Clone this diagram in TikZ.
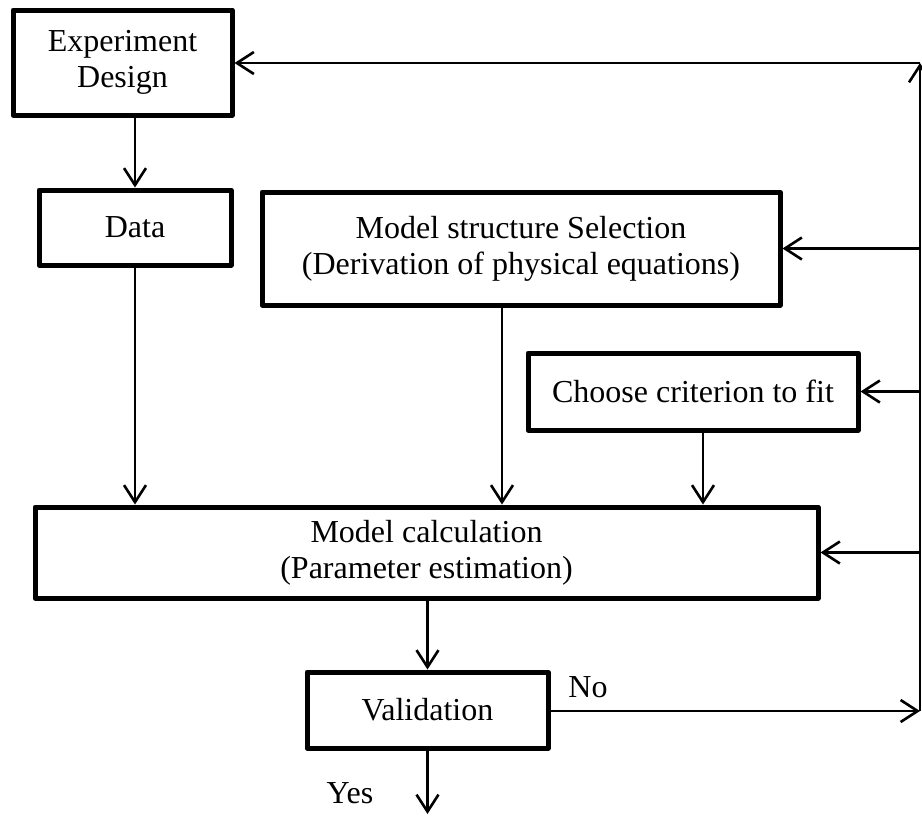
\documentclass[tikz,border=0pt]{standalone}
\usepackage{fontspec}
\setmainfont{Liberation Serif}
\usetikzlibrary{arrows.meta}
\begin{document}
\begin{tikzpicture}[x=0.5pt,y=-0.5pt,
  box/.style={draw=black,line width=2.5pt,line join=round,rectangle,inner sep=0pt,
    align=center,font=\fontsize{16}{18}\selectfont},
  lbl/.style={inner sep=0pt,font=\fontsize{16}{18}\selectfont},
  arr/.style={line width=1.3pt,-{Straight Barb[length=8.5pt,width=11pt,line width=1.3pt]}},
  ln/.style={line width=1.3pt}]
\useasboundingbox (0,0) rectangle (922,816);
\node[box,minimum width=109.5pt,minimum height=52.5pt] (ed) at (122.5,62.5) {Experiment\\Design};
\node[box,minimum width=96pt,minimum height=37.5pt] (data) at (135,227.5) {Data};
\node[box,minimum width=259pt,minimum height=56.5pt] (ms) at (521,248.5) {Model structure Selection\\(Derivation of physical equations)};
\node[box,minimum width=165pt,minimum height=38.5pt] (cc) at (693,391.5) {Choose criterion to fit};
\node[box,minimum width=391.5pt,minimum height=45.5pt] (mc) at (426.5,552.5) {Model calculation\\(Parameter estimation)};
\node[box,minimum width=120.5pt,minimum height=38pt] (val) at (427.5,710) {Validation};
\coordinate (bust) at (920,63);
\coordinate (busb) at (920,711);
\coordinate (yesend) at (427.5,814);
\coordinate (msx) at (502,0);
\coordinate (ccx) at (703,0);
\node[lbl] (no) at (588,687) {No};
\node[lbl] (yes) at (350,793) {Yes};
% main flow
\draw[arr] (ed.south -| data.north) -- (data.north);
\draw[arr] (data.south) -- (data.south |- mc.north);
\draw[arr] (ms.south -| msx) -- (mc.north -| msx);
\draw[arr] (cc.south -| ccx) -- (mc.north -| ccx);
\draw[arr] (mc.south -| val.north) -- (val.north);
\draw[arr] (val.south) -- (yesend);
% feedback
\draw[arr] (val.east |- busb) -- (busb);
\draw[arr] (busb) -- (bust);
\draw[arr] (bust) -- (ed.east |- bust);
\draw[arr] (ms.east -| bust) -- (ms.east);
\draw[arr] (cc.east -| bust) -- (cc.east);
\draw[arr] (mc.east -| bust) -- (mc.east);
\end{tikzpicture}
\end{document}
